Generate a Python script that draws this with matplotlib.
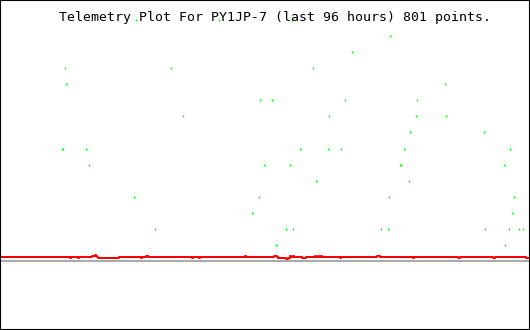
import matplotlib
matplotlib.use("Agg")
import matplotlib.pyplot as plt

title = "Telemetry Plot For PY1JP-7 (last 96 hours) 801 points."

# green telemetry samples (hours, value)
dot_hours = [24.5, 39.6, 52.9, 70.8, 63.9, 11.5, 30.8, 56.8, 11.7, 80.9,
             47.1, 49.3, 62.6, 75.7, 33.0, 59.7, 75.6, 81.0, 74.5, 88.0,
             10.9, 11.1, 15.3, 54.4, 59.5, 61.9, 73.4, 92.7, 15.9, 47.8,
             52.6, 72.6, 72.8, 91.6, 57.3, 74.3, 24.1, 46.9, 70.6, 93.4,
             45.6, 93.1, 27.9, 51.8, 53.1, 69.2, 70.5, 88.2, 92.5, 94.4,
             95.1, 50.0, 91.8]
dot_values = [15, 15, 15, 14, 13, 12, 12, 12, 11, 11,
              10, 10, 10, 10, 9, 9, 9, 9, 8, 8,
              7, 7, 7, 7, 7, 7, 7, 7, 6, 6,
              6, 6, 6, 6, 5, 5, 4, 4, 4, 4,
              3, 3, 2, 2, 2, 2, 2, 2, 2, 2,
              2, 1, 1]

# red series (hours, value)
red_hours = [0.0, 12.4, 12.6, 13.9, 14.1, 16.4, 17.0, 17.2, 17.3, 17.5,
             21.4, 25.4, 25.6, 26.3, 26.6, 34.7, 34.9, 36.0, 36.1, 44.3,
             44.5, 49.6, 50.2, 50.4, 51.8, 52.2, 52.6, 52.7, 53.1, 53.3,
             54.8, 55.5, 57.1, 57.3, 57.7, 57.9, 58.2, 58.4, 61.7, 61.9,
             68.4, 69.0, 75.0, 75.2, 83.2, 83.6, 89.6, 90.0, 95.6, 96.4]
red_values = [0.25, 0.19, 0.25, 0.19, 0.25, 0.31, 0.37, 0.31, 0.25, 0.19,
              0.25, 0.19, 0.25, 0.31, 0.25, 0.19, 0.25, 0.19, 0.25, 0.31,
              0.25, 0.31, 0.25, 0.19, 0.125, 0.19, 0.31, 0.25, 0.31, 0.25,
              0.19, 0.25, 0.31, 0.25, 0.31, 0.25, 0.31, 0.25, 0.19, 0.25,
              0.31, 0.25, 0.19, 0.25, 0.19, 0.25, 0.19, 0.25, 0.19, 0.19]

baseline = 0.0

fig = plt.figure(figsize=(5.3, 3.3), dpi=100)
fig.patch.set_facecolor("white")
ax = fig.add_axes([0, 0, 1, 1])
ax.set_facecolor("white")

ax.axhline(baseline, color="#aaaaaa", lw=1.44, zorder=1)
ax.plot(red_hours, red_values, color="#ff0000", lw=1.44, drawstyle="steps-post",
        zorder=2)
ax.plot(dot_hours, dot_values, linestyle="none", marker="|", markersize=1.8,
        markeredgewidth=1.0, color="#00ff00", antialiased=False, zorder=3)

ax.set_xlim(-0.365, 96.37)
ax.set_ylim(-4.29, 16.24)
ax.set_xticks([])
ax.set_yticks([])
for side, sp in ax.spines.items():
    sp.set_color("black")
    sp.set_linewidth(1.5)

ax.text(0.518, 0.935, title, transform=ax.transAxes, ha="center", va="baseline",
        family="DejaVu Sans Mono", fontsize=9.55, color="black")

fig.savefig("out.png", dpi=100, facecolor="white")
